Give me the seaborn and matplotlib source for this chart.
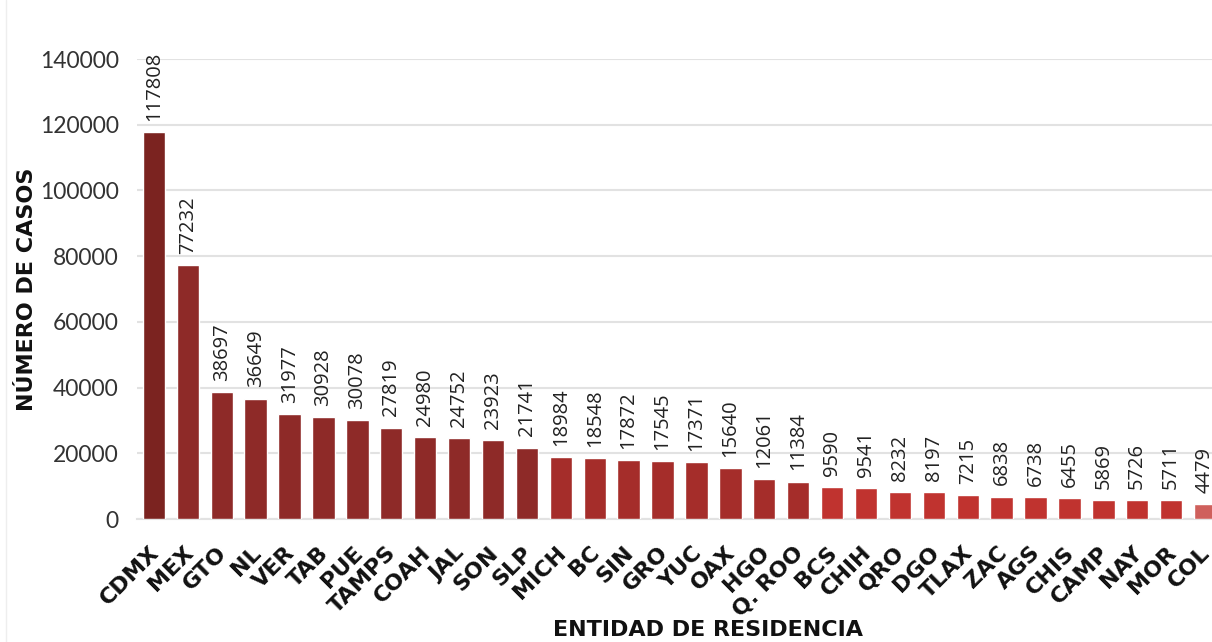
import matplotlib
matplotlib.use("Agg")
import matplotlib.pyplot as plt
import matplotlib.transforms as mtransforms
import seaborn as sns
import pandas as pd
from matplotlib.lines import Line2D

estados = ["CDMX", "MEX", "GTO", "NL", "VER", "TAB", "PUE", "TAMPS", "COAH", "JAL",
           "SON", "SLP", "MICH", "BC", "SIN", "GRO", "YUC", "OAX", "HGO", "Q. ROO",
           "BCS", "CHIH", "QRO", "DGO", "TLAX", "ZAC", "AGS", "CHIS", "CAMP", "NAY",
           "MOR", "COL"]
casos = [117808, 77232, 38697, 36649, 31977, 30928, 30078, 27819, 24980, 24752,
         23923, 21741, 18984, 18548, 17872, 17545, 17371, 15640, 12061, 11384,
         9590, 9541, 8232, 8197, 7215, 6838, 6738, 6455, 5869, 5726,
         5711, 4479]
y_ticks = [0, 20000, 40000, 60000, 80000, 100000, 120000, 140000]

# colour band by number of cases
def color_for(v):
    if v >= 100000:
        return "#7B2320"
    if v >= 20000:
        return "#8E2A28"
    if v >= 10000:
        return "#A52D2A"
    if v >= 5000:
        return "#C0332F"
    return "#CF605C"

palette = [color_for(v) for v in casos]
df = pd.DataFrame({"estado": estados, "casos": casos})

sns.set_theme(style="white")
plt.rcParams["font.family"] = ["DejaVu Sans"]

fig = plt.figure(figsize=(12.12, 6.42), dpi=100)
ax = fig.add_axes([137 / 1212, 1 - 519 / 642, 1085 / 1212, 460 / 642])

sns.barplot(data=df, x="estado", y="casos", hue="estado", palette=palette,
            legend=False, width=0.66, saturation=1, ax=ax, zorder=3)

ax.set_xlim(-0.5, len(estados) - 0.5)
ax.set_ylim(0, 140000)
ax.set_yticks(y_ticks)
ax.set_yticklabels([str(t) for t in y_ticks], fontsize=16.5, color="#333333",
                   family="Lato")
ax.tick_params(axis="y", length=0, pad=13)
ax.tick_params(axis="x", length=0, pad=22)
ax.yaxis.grid(True, color="#E2E2E2", linewidth=1.5, zorder=0)
ax.set_axisbelow(True)
for s in ["top", "right", "left"]:
    ax.spines[s].set_visible(False)
ax.spines["bottom"].set_color("#E2E2E2")
ax.spines["bottom"].set_linewidth(1.5)

shift = mtransforms.ScaledTranslation(2 / 100, 0, fig.dpi_scale_trans)
for lab in ax.get_xticklabels():
    lab.set_rotation(45)
    lab.set_ha("right")
    lab.set_va("center")
    lab.set_rotation_mode("anchor")
    lab.set_fontsize(16)
    lab.set_fontweight("bold")
    lab.set_color("#111111")
    lab.set_transform(lab.get_transform() + shift)

# value labels above each bar
for i, v in enumerate(casos):
    ax.annotate(str(v), xy=(i, v), xytext=(0, 8), textcoords="offset points",
                rotation=90, ha="center", va="bottom", fontsize=14.5,
                family="Open Sans", color="#222222", annotation_clip=False)

ax.set_xlabel("ENTIDAD DE RESIDENCIA", fontsize=16, fontweight="bold",
              color="#111111")
ax.xaxis.set_label_coords(0.526, -0.22)
ax.set_ylabel("NÚMERO DE CASOS", fontsize=16, fontweight="bold", color="#111111")
ax.yaxis.set_label_coords(-0.092, 0.5)

fig.add_artist(Line2D([6 / 1212, 6 / 1212], [0, 1], color="#EEEEEE", linewidth=1))

fig.savefig("out.png", dpi=100, facecolor="white")
